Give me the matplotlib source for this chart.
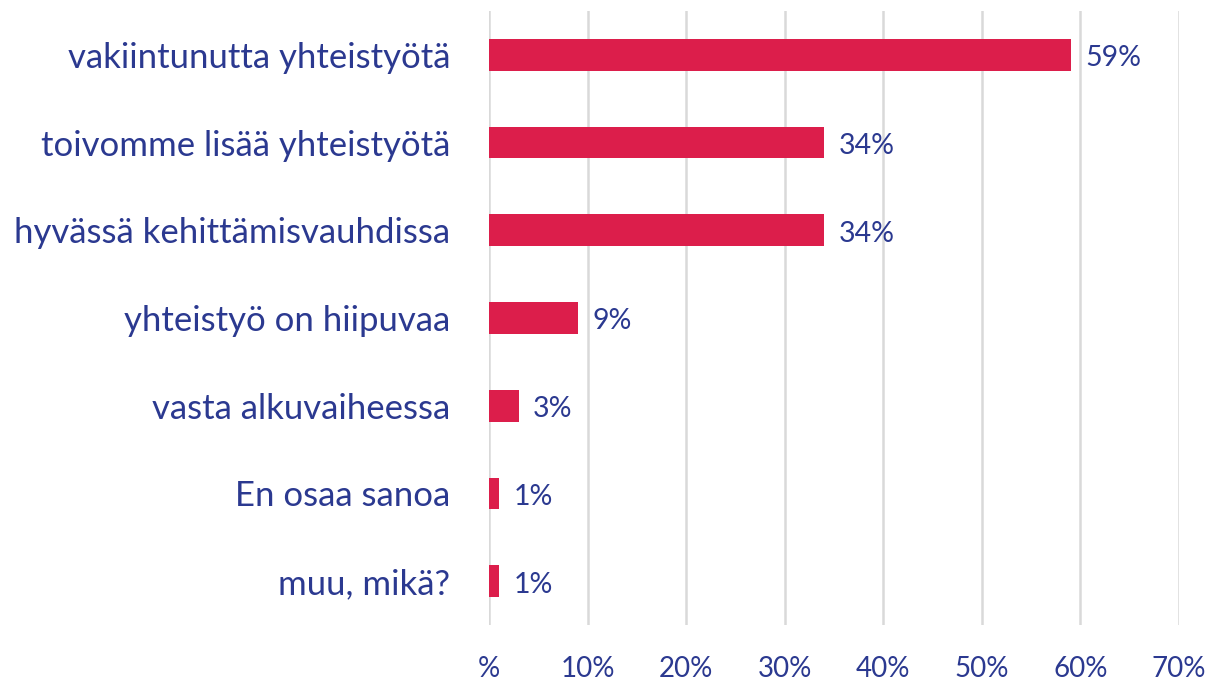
import matplotlib
matplotlib.use("Agg")
import matplotlib.pyplot as plt

categories = ["vakiintunutta yhteistyötä", "toivomme lisää yhteistyötä",
              "hyvässä kehittämisvauhdissa", "yhteistyö on hiipuvaa",
              "vasta alkuvaiheessa", "En osaa sanoa", "muu, mikä?"]
values = [59, 34, 34, 9, 3, 1, 1]
value_labels = ["59%", "34%", "34%", "9%", "3%", "1%", "1%"]
xticks = [0, 10, 20, 30, 40, 50, 60, 70]
xtick_labels = ["%", "10%", "20%", "30%", "40%", "50%", "60%", "70%"]

TEXT = "#2B3990"
BAR = "#DC1E4B"
plt.rcParams['font.family'] = ['Lato', 'DejaVu Sans']

fig = plt.figure(figsize=(12.1, 6.81), dpi=100)
ax = fig.add_axes([489/1210, 1-625/681, (1179-489)/1210, (625-11)/681])

y = list(range(len(categories)))
ax.barh(y, values, height=0.36, color=BAR, zorder=3)
for yi, v, lab in zip(y, values, value_labels):
    ax.annotate(lab, (v, yi), xytext=(10.5, -2.5), textcoords="offset points",
                va="center", ha="left", color=TEXT, fontsize=20.5)

ax.set_xlim(0, 70)
ax.set_ylim(len(categories) - 0.5, -0.5)
ax.set_xticks(xticks)
ax.set_xticklabels(xtick_labels, color=TEXT, fontsize=20)
ax.set_yticks(y)
ax.set_yticklabels(categories, color=TEXT, fontsize=25)
ax.tick_params(axis="both", length=0)
ax.tick_params(axis="x", pad=22)
ax.tick_params(axis="y", pad=28)
ax.xaxis.grid(True, color="#D9D9D9", linewidth=1.8, zorder=0)
for s in ax.spines.values():
    s.set_visible(False)

fig.savefig("out.png", dpi=100, facecolor="white")
